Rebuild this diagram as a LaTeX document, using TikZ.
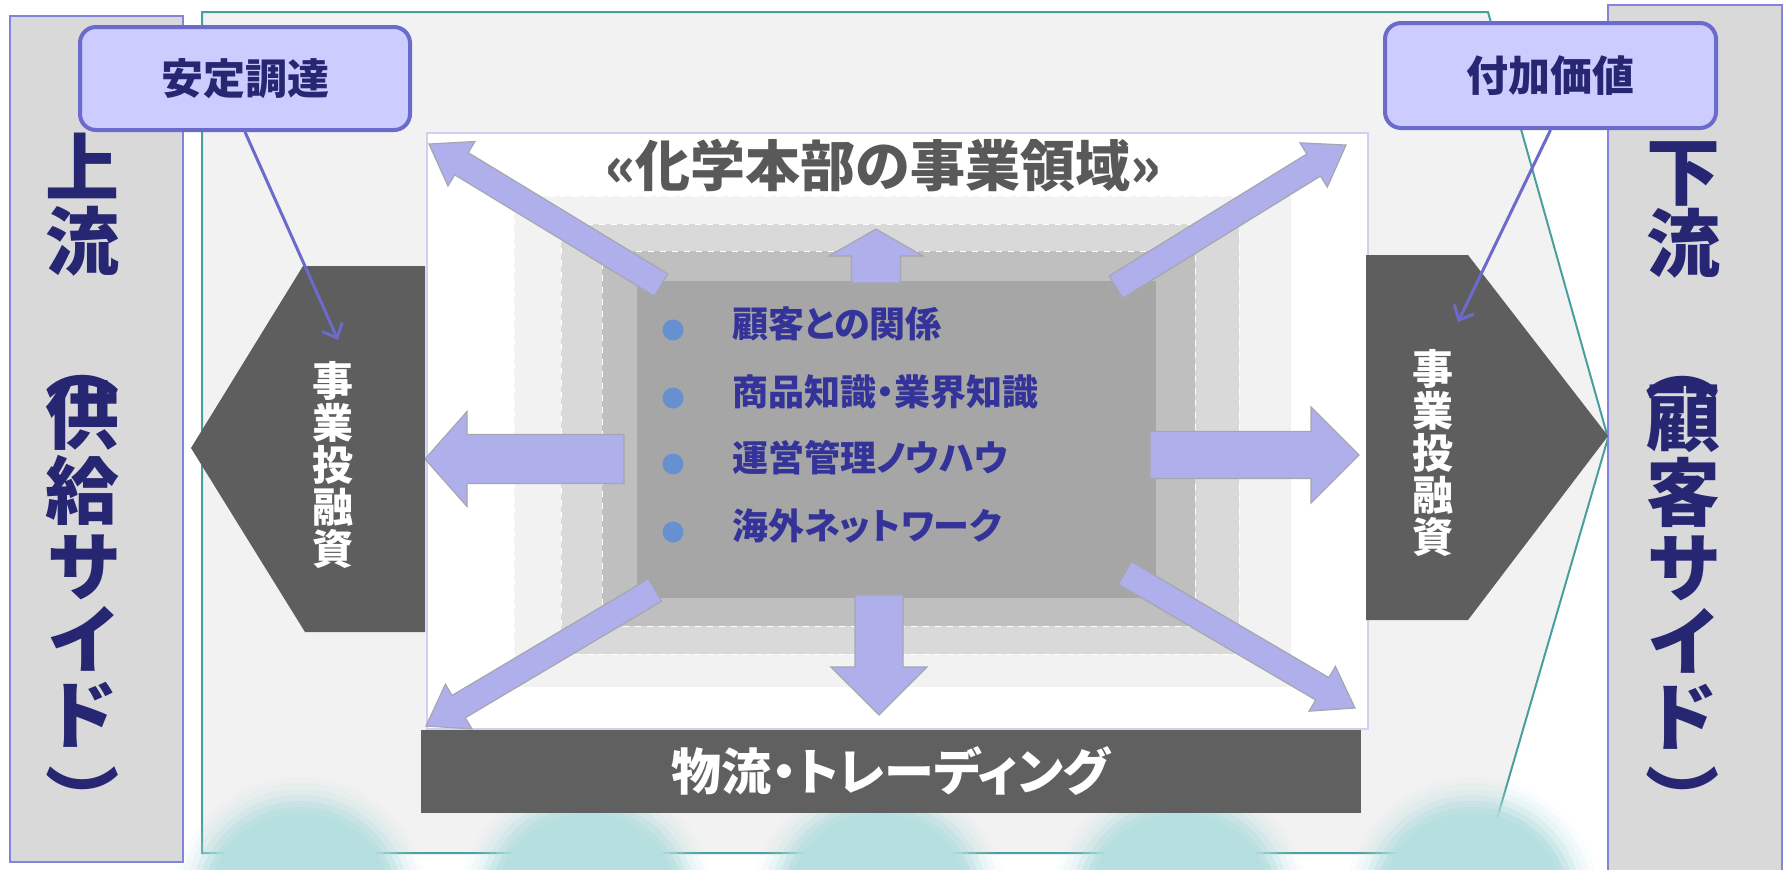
\documentclass[tikz,border=0pt]{standalone}
\usepackage{graphicx}
\usepackage{fontspec}
\newfontfamily\jp{Noto Sans CJK JP}[RawFeature=+palt]
\usetikzlibrary{arrows.meta,calc}
\definecolor{panelgray}{HTML}{F2F2F2}
\definecolor{tealline}{HTML}{4A9E9E}
\definecolor{sidegray}{HTML}{D9D9D9}
\definecolor{sideborder}{HTML}{8484DC}
\definecolor{navy}{HTML}{262673}
\definecolor{callfill}{HTML}{CCCCFF}
\definecolor{callborder}{HTML}{6B6BCC}
\definecolor{pentgray}{HTML}{5E5E5E}
\definecolor{bargray}{HTML}{606060}
\definecolor{arrowfill}{HTML}{AFAFEC}
\definecolor{arrowedge}{HTML}{A6A6B0}
\definecolor{bulletblue}{HTML}{6690CF}
\definecolor{bullettext}{HTML}{333399}
\definecolor{titlegray}{HTML}{595959}
\definecolor{boxborder}{HTML}{D0D0F2}
\definecolor{bubble}{HTML}{B6DFE0}
\definecolor{stepA}{HTML}{F2F2F2}
\definecolor{stepB}{HTML}{D9D9D9}
\definecolor{stepC}{HTML}{BFBFBF}
\definecolor{stepD}{HTML}{A6A6A6}
\newcommand\fatarrow[7]{%
  \pgfmathsetmacro\faA{atan2((#2)-(#4),(#3)-(#1))}%
  \pgfmathsetmacro\faL{veclen((#3)-(#1),(#4)-(#2))}%
  \pgfmathsetmacro\faB{\faL-(#7)}%
  \begin{scope}[shift={(#1,#2)},rotate=\faA]
    \filldraw[fatarrowsty] (0,{-(#5)/2}) -- (\faB,{-(#5)/2}) -- (\faB,{-(#6)/2}) -- (\faL,0) -- (\faB,{(#6)/2}) -- (\faB,{(#5)/2}) -- (0,{(#5)/2}) -- cycle;
  \end{scope}}
\begin{document}
\begin{tikzpicture}[x=0.5pt,y=-0.5pt,
  fatarrowsty/.style={fill=arrowfill,draw=arrowedge,line width=0.6pt,line join=miter},
  bigv/.style={inner sep=0pt,text height=0.88em,text depth=0.12em,text=navy,font=\jp\bfseries\fontsize{37}{40}\selectfont},
  bigp/.style={inner sep=0pt,text=navy,font=\jp\bfseries\fontsize{37}{40}\selectfont},
  callout/.style={draw=callborder,fill=callfill,line width=2pt,rounded corners=8pt,text=navy,font=\jp\bfseries\fontsize{21}{24}\selectfont,inner sep=0pt},
  callarrow/.style={draw=callborder,line width=1.5pt,-{Straight Barb[length=6pt,width=11pt]}},
  penttext/.style={align=center,text=white,inner sep=0pt,font=\jp\bfseries\fontsize{20.5}{21}\selectfont},
  bullettxt/.style={anchor=west,inner sep=0pt,text height=0.88em,text depth=0.12em,text=bullettext,font=\jp\bfseries\fontsize{18}{20}\selectfont},
  steprect/.style={draw=white,dashed,line width=0.5pt}]
\useasboundingbox (0,0) rectangle (1787,869);
\fill[white] (0,0) rectangle (1787,869);
% main panel
\filldraw[fill=panelgray,draw=tealline,line width=1pt] (202,12) -- (1488,12) -- (1608,438) -- (1487,853) -- (202,853) -- cycle;
% bubbles (soft edges)
\foreach \bx in {300,587,879,1180,1472}{
  \foreach \r/\o in {128/0.06,122/0.1,116/0.15,110/0.25,104/0.4,98/0.6,92/1}{
    \fill[bubble,opacity=\o] (\bx,905) circle (\r);
  }
}
% side boxes
\filldraw[fill=sidegray,draw=sideborder,line width=1pt] (10,16) rectangle (183,862);
\filldraw[fill=sidegray,draw=sideborder,line width=1pt] (1608,5) rectangle (1782,880);
% white inner box
\filldraw[fill=white,draw=boxborder,line width=0.8pt] (427,133) rectangle (1368,729);
% stepped rectangles
\filldraw[fill=stepA,steprect] (514,196) rectangle (1291,687);
\filldraw[fill=stepB,steprect] (561,224) rectangle (1239,654);
\filldraw[fill=stepC,steprect] (602,251) rectangle (1195,626);
\fill[stepD] (637,281) rectangle (1156,598);
% title
\node[inner sep=0pt,text=titlegray,font=\jp\bfseries\fontsize{27.5}{30}\selectfont] (title) at (883,166) {«化学本部の事業領域»};
% bullets
\foreach \by/\btxt [count=\i] in {330/顧客との関係,398/商品知識・業界知識,464/運営管理ノウハウ,532/海外ネットワーク}{
  \fill[bulletblue] (673,\by) circle (10.5);
  \node[bullettxt] (b\i) at (732,\by) {\btxt};
}
% arrows
\fatarrow{876}{283}{876}{229}{49}{94}{27}
\fatarrow{879}{595}{879}{715}{48}{96}{48}
\fatarrow{624}{459}{425}{459}{49}{95}{42}
\fatarrow{1150}{455}{1359}{455}{47}{96}{48}
\fatarrow{661}{285}{429}{144}{26}{52}{38}
\fatarrow{1116}{287}{1346}{145}{26}{52}{38}
\fatarrow{655}{590}{426}{726}{26}{52}{38}
\fatarrow{1125}{573}{1355}{708}{26}{52}{38}
% pentagons
\fill[pentgray] (303,266) -- (425,266) -- (425,632) -- (305,632) -- (191,448) -- cycle;
\fill[pentgray] (1366,255) -- (1468,255) -- (1608,436) -- (1468,620) -- (1366,620) -- cycle;
\node[penttext] (pentL) at (333,465) {事\\業\\投\\融\\資};
\node[penttext] (pentR) at (1433,453) {事\\業\\投\\融\\資};
% bottom bar
\node[fill=bargray,minimum width=470pt,minimum height=41.5pt,inner sep=0pt,text=white,font=\jp\bfseries\fontsize{25}{28}\selectfont] (bar) at (891,771.5) {物流・トレーディング};
% callouts
\node[callout,minimum width=165pt,minimum height=51.5pt] (callL) at (245,78.5) {安定調達};
\node[callout,minimum width=165.5pt,minimum height=52.5pt] (callR) at (1550.5,75.5) {付加価値};
\coordinate (aL) at (338,340);
\coordinate (aR) at (1458,322);
\draw[callarrow] (callL.south) -- (aL);
\draw[callarrow] (callR.south) -- (aR);
% vertical labels
\foreach \c/\y [count=\i] in {上/188,流/262,供/436,給/511,サ/587,イ/660,ド/735}{
  \node[bigv] (L\i) at (83,\y) {\c};
}
\node[bigp] (Lpo) at (83,385) {\rotatebox[origin=c]{-90}{（}};
\node[bigp] (Lpc) at (83,790) {\rotatebox[origin=c]{-90}{）}};
\foreach \c/\y [count=\i] in {下/192,流/264,顧/438,客/513,サ/588,イ/662,ド/737}{
  \node[bigv] (R\i) at (1683,\y) {\c};
}
\node[bigp] (Rpo) at (1683,386) {\rotatebox[origin=c]{-90}{（}};
\node[bigp] (Rpc) at (1683,790) {\rotatebox[origin=c]{-90}{）}};
\end{tikzpicture}
\end{document}
